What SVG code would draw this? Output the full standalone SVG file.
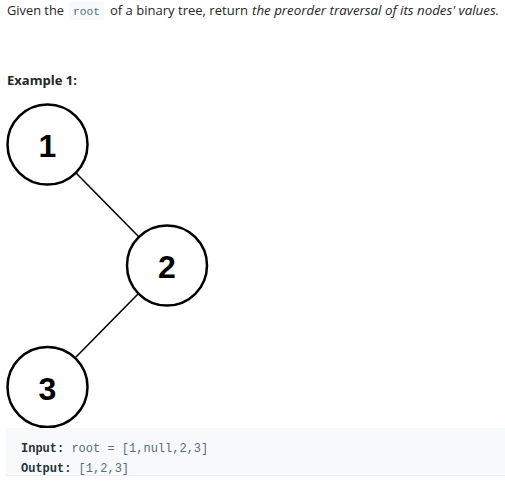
<svg xmlns="http://www.w3.org/2000/svg" width="505" height="481" viewBox="0 0 505 481">
<style>
.t{font-family:"Open Sans","Noto Sans","Liberation Sans",sans-serif;font-size:13px;fill:#262626}
.i{font-style:italic}
.b{font-weight:bold}
.m{font-family:"Liberation Mono","DejaVu Sans Mono",monospace;font-size:12px;fill:#546e7a}
.mb{font-weight:bold;fill:#263238}
.node circle{fill:#fff;stroke:#000;stroke-width:2.5}
.node text{font-family:"Liberation Sans",Arial,sans-serif;font-weight:bold;font-size:32px;fill:#000;text-anchor:middle}
.edge{stroke:#000;stroke-width:1.6}
</style>
<rect width="505" height="481" fill="#fff"/>
<rect x="69" y="2" width="35" height="18" rx="3" fill="#f7f9fa"/>
<text class="t" x="7" y="15" textLength="57" lengthAdjust="spacingAndGlyphs">Given the</text>
<text class="m" x="73" y="15" textLength="27" lengthAdjust="spacingAndGlyphs" style="font-size:11px">root</text>
<text class="t" x="110" y="15" textLength="138" lengthAdjust="spacingAndGlyphs">of a binary tree, return</text>
<text class="t i" x="252" y="15" textLength="247" lengthAdjust="spacingAndGlyphs">the preorder traversal of its nodes' values.</text>
<text class="t b" x="7" y="85" textLength="70" lengthAdjust="spacingAndGlyphs">Example 1:</text>
<g id="edges">
<line class="edge" x1="76" y1="173" x2="139" y2="237"/>
<line class="edge" x1="138" y1="294" x2="76" y2="357"/>
</g>
<g id="node1" class="node"><circle cx="47.5" cy="144.5" r="40"/><text x="47.5" y="157">1</text></g>
<g id="node2" class="node"><circle cx="167" cy="265.5" r="40"/><text x="167" y="278">2</text></g>
<g id="node3" class="node"><circle cx="47.5" cy="387" r="40"/><text x="47.5" y="399.5">3</text></g>
<rect x="6" y="428" width="499" height="47" fill="#f7f9fa"/>
<line x1="6" y1="475.5" x2="505" y2="475.5" stroke="#eceff1" stroke-width="1"/>
<text class="m" x="21" y="452"><tspan class="mb">Input:</tspan> root = [1,null,2,3]</text>
<text class="m" x="21" y="472"><tspan class="mb">Output:</tspan> [1,2,3]</text>
</svg>
